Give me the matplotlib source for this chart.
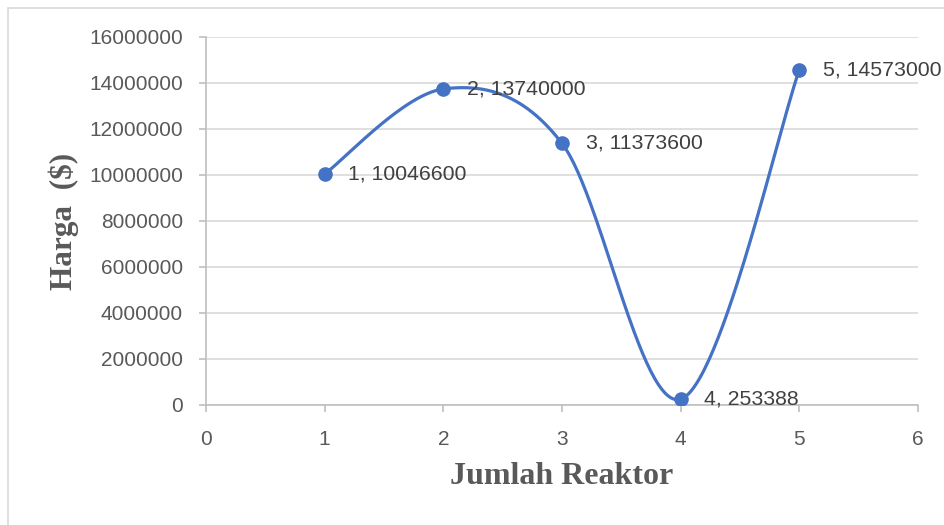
import numpy as np
import matplotlib
matplotlib.use("Agg")
import matplotlib.pyplot as plt
from matplotlib.patches import Rectangle

# data
jumlah_reaktor = [1, 2, 3, 4, 5]
harga = [10046600, 13740000, 11373600, 253388, 14573000]
x_ticks = [0, 1, 2, 3, 4, 5, 6]
y_ticks = [0, 2000000, 4000000, 6000000, 8000000, 10000000, 12000000, 14000000, 16000000]

line_color = "#4472C4"
text_color = "#595959"
grid_color = "#D9D9D9"

plt.rcParams["font.family"] = ["Liberation Sans", "DejaVu Sans"]


def smooth_line(xs, ys, n=60):
    # Excel-like smoothed line: cubic bezier segments with Catmull-Rom style control points
    px = np.asarray(xs, dtype=float)
    py = np.asarray(ys, dtype=float)
    ex = np.concatenate([[px[0]], px, [px[-1]]])
    ey = np.concatenate([[py[0]], py, [py[-1]]])
    t = np.linspace(0, 1, n)[:, None]
    out_x, out_y = [], []
    for i in range(len(px) - 1):
        p0 = np.array([ex[i + 1], ey[i + 1]])
        p3 = np.array([ex[i + 2], ey[i + 2]])
        c1 = p0 + (np.array([ex[i + 2], ey[i + 2]]) - np.array([ex[i], ey[i]])) / 6
        c2 = p3 - (np.array([ex[i + 3], ey[i + 3]]) - np.array([ex[i + 1], ey[i + 1]])) / 6
        pts = ((1 - t) ** 3) * p0 + 3 * ((1 - t) ** 2) * t * c1 + 3 * (1 - t) * t ** 2 * c2 + t ** 3 * p3
        out_x.extend(pts[:, 0])
        out_y.extend(pts[:, 1])
    return out_x, out_y


fig = plt.figure(figsize=(9.45, 5.25), dpi=100)
ax = fig.add_axes([206 / 945, 1 - 405 / 525, 712 / 945, 368 / 525])

# outer chart border (only top/left visible in the reference)
fig.patches.append(Rectangle((8 / 945, -0.1), 1.2, 1 - 8 / 525 + 0.1, transform=fig.transFigure,
                             fill=False, edgecolor=grid_color, linewidth=1.2))

sx, sy = smooth_line(jumlah_reaktor, harga)
ax.plot(sx, sy, color=line_color, linewidth=2.3, solid_capstyle="round", zorder=3)
ax.plot(jumlah_reaktor, harga, "o", color=line_color, markersize=9.5, zorder=4)

for x, y in zip(jumlah_reaktor, harga):
    ax.annotate(f"{x}, {y}", (x, y), xytext=(17, 0), textcoords="offset points",
                va="center", ha="left", fontsize=15.3, color="#404040", zorder=5,
                annotation_clip=False)

ax.set_xlim(0, 6)
ax.set_ylim(0, 16000000)
ax.set_xticks(x_ticks)
ax.set_yticks(y_ticks)
ax.set_yticklabels([str(v) for v in y_ticks])
ax.yaxis.grid(True, color=grid_color, linewidth=1.2)
ax.set_axisbelow(True)
for side in ["top", "right"]:
    ax.spines[side].set_visible(False)
for side in ["left", "bottom"]:
    ax.spines[side].set_color("#BFBFBF")
    ax.spines[side].set_linewidth(1.2)
ax.tick_params(axis="both", colors="#BFBFBF", labelcolor=text_color, labelsize=15,
               length=5, width=1.2, direction="out")
ax.tick_params(axis="y", pad=11.5)
ax.tick_params(axis="x", pad=13)

ax.set_xlabel("Jumlah Reaktor", fontfamily="Liberation Serif", fontweight="bold",
              fontsize=23, color=text_color, labelpad=9)
ax.set_ylabel("Harga  ($)", fontfamily="Liberation Serif", fontweight="bold",
              fontsize=22.5, color=text_color, labelpad=7)

fig.savefig("out.png", dpi=100)
